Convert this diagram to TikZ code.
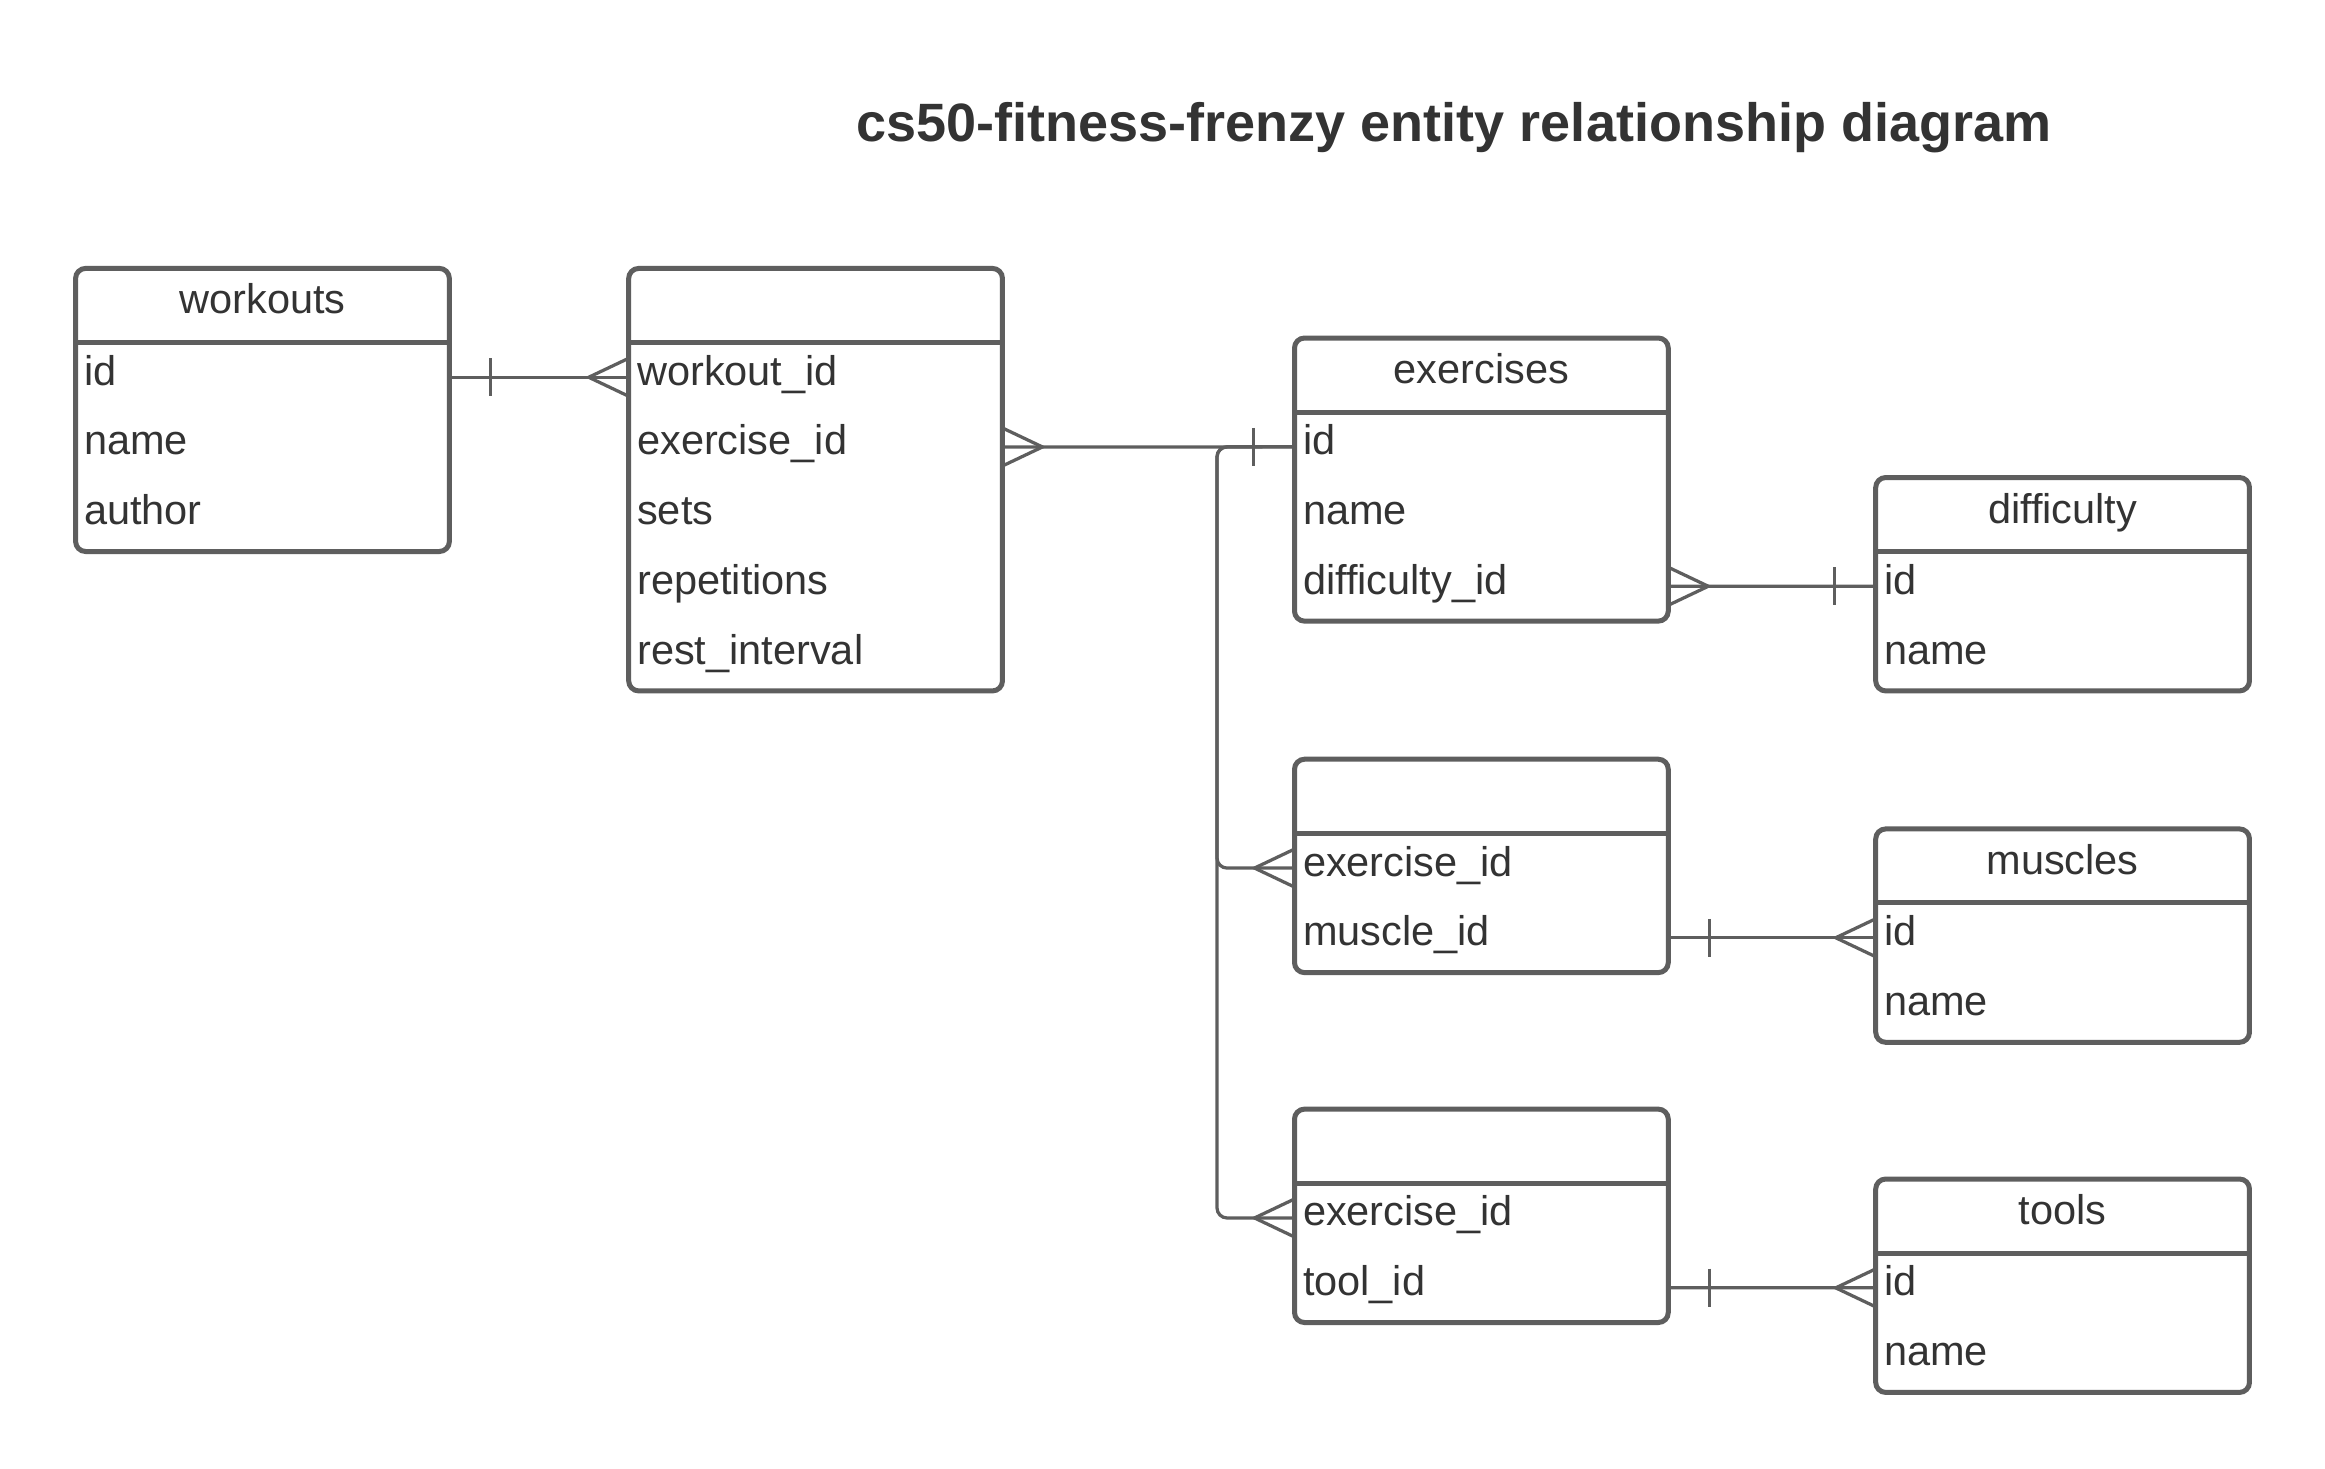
\documentclass[tikz,border=0pt]{standalone}
\usepackage{fontspec}
\setmainfont{Liberation Sans}
\usetikzlibrary{calc}
\definecolor{edgegray}{HTML}{5E5E5E}
\definecolor{inkgray}{HTML}{333333}
\tikzset{
  x=0.4pt, y=-0.4pt,
  tbl/.style={draw=edgegray, line width=2pt, rounded corners=4pt, fill=white,
    inner sep=0pt, outer sep=0pt, minimum width=149.5pt},
  tblline/.style={draw=edgegray, line width=2pt},
  hdr/.style={inner sep=0pt, text=inkgray, font=\fontsize{16.6}{20}\selectfont},
  rowtxt/.style={inner sep=0pt, text=inkgray, font=\fontsize{16.6}{20}\selectfont},
  conn/.style={draw=edgegray, line width=1.3pt},
  titletxt/.style={inner sep=0pt, text=inkgray, font=\fontsize{21.6}{26}\selectfont\bfseries},
}
\newcommand{\ertab}[6]{%
  \pgfmathsetmacro{\tabh}{(74+#4*69.7)*0.4}%
  \node[tbl, minimum height=\tabh pt, anchor=north west] (#1) at (#2,#3) {};
  \draw[tblline] ($(#1.north west)+(0,74)$) -- ($(#1.north east)+(0,74)$);
  \node[hdr, anchor=base] (#1-h) at ($(#1.north)+(0,45.5)$) {#5};
  \foreach \t [count=\i] in {#6} {
    \coordinate (#1-\i) at ($(#1.north west)+(0,74+\i*69.7-34.85)$);
    \coordinate (#1-e\i) at ($(#1.north east)+(0,74+\i*69.7-34.85)$);
    \node[rowtxt, anchor=base west] (#1-t\i) at ($(#1-\i)+(8,8)$) {\t};
  }
}
\newcommand{\manyend}[2]{\draw[conn] ($(#1)+(0,-19)$) -- ($(#1)+(#2*40,0)$) -- ($(#1)+(0,19)$);}
\newcommand{\oneend}[2]{\draw[conn] ($(#1)+(#2*41,-19)$) -- ($(#1)+(#2*41,19)$);}
\begin{document}
\begin{tikzpicture}
\fill[white] (0,0) rectangle (2325,1468);
\useasboundingbox (0,0) rectangle (2325,1468);

\node[titletxt, anchor=base] (title) at (1454,141) {cs50-fitness-frenzy entity relationship diagram};

\ertab{wo}{75.6}{268.4}{3}{workouts}{id,name,author}
\ertab{we}{628.7}{268.4}{5}{}{workout\_id,exercise\_id,sets,repetitions,rest\_interval}
\ertab{ex}{1294.5}{338}{3}{exercises}{id,name,difficulty\_id}
\ertab{di}{1875.7}{477.5}{2}{difficulty}{id,name}
\ertab{em}{1294.5}{759.2}{2}{}{exercise\_id,muscle\_id}
\ertab{mu}{1875.7}{828.9}{2}{muscles}{id,name}
\ertab{et}{1294.5}{1109.1}{2}{}{exercise\_id,tool\_id}
\ertab{to}{1875.7}{1179}{2}{tools}{id,name}

\coordinate (bus) at (1217,447);

% workouts -> workouts_exercises
\draw[conn] (wo-e1) -- (we-1);
\oneend{wo-e1}{1}
\manyend{we-1}{-1}

% workouts_exercises -> exercises
\draw[conn] (we-e2) -- (ex-1);
\manyend{we-e2}{1}
\oneend{ex-1}{-1}

% exercises -> exercise_muscles / exercise_tools
\draw[conn, rounded corners=4pt] (ex-1) -| (bus |- em-1) -- (em-1);
\draw[conn, rounded corners=4pt] (ex-1) -| (bus |- et-1) -- (et-1);
\manyend{em-1}{-1}
\manyend{et-1}{-1}

% exercises -> difficulty
\draw[conn] (ex-e3) -- (di-1);
\manyend{ex-e3}{1}
\oneend{di-1}{-1}

% exercise_muscles -> muscles
\draw[conn] (em-e2) -- (mu-1);
\oneend{em-e2}{1}
\manyend{mu-1}{-1}

% exercise_tools -> tools
\draw[conn] (et-e2) -- (to-1);
\oneend{et-e2}{1}
\manyend{to-1}{-1}
\end{tikzpicture}
\end{document}
